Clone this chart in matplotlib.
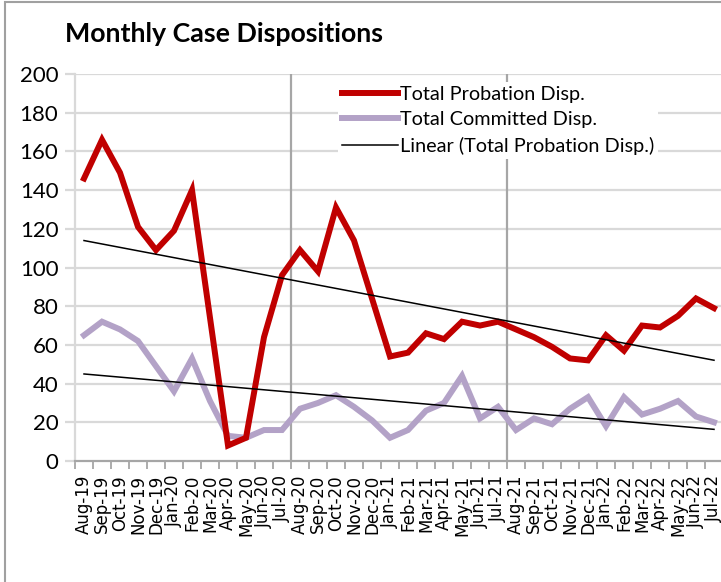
import numpy as np
import matplotlib
matplotlib.use('Agg')
from matplotlib import pyplot as plt
from matplotlib.patches import Rectangle

meses = ['Aug-19', 'Sep-19', 'Oct-19', 'Nov-19', 'Dec-19', 'Jan-20', 'Feb-20', 'Mar-20',
         'Apr-20', 'May-20', 'Jun-20', 'Jul-20', 'Aug-20', 'Sep-20', 'Oct-20', 'Nov-20',
         'Dec-20', 'Jan-21', 'Feb-21', 'Mar-21', 'Apr-21', 'May-21', 'Jun-21', 'Jul-21',
         'Aug-21', 'Sep-21', 'Oct-21', 'Nov-21', 'Dec-21', 'Jan-22', 'Feb-22', 'Mar-22',
         'Apr-22', 'May-22', 'Jun-22', 'Jul-22']

probation = [146, 166, 149, 121, 109, 119, 140, 74, 8, 12, 64, 96,
             109, 98, 131, 114, 84, 54, 56, 66, 63, 72, 70, 72,
             68, 64, 59, 53, 52, 65, 57, 70, 69, 75, 84, 79]

committed = [65, 72, 68, 62, 49, 36, 53, 31, 13, 12, 16, 16,
             27, 30, 34, 28, 21, 12, 16, 26, 30, 44, 22, 28,
             16, 22, 19, 27, 33, 18, 33, 24, 27, 31, 23, 20]

y_ticks = list(range(0, 201, 20))

W, H = 721, 582
fig = plt.figure(figsize=(W / 100, H / 100), dpi=100)
ax = fig.add_axes([75 / W, 1 - 461 / H, 648 / W, 387 / H])

x = np.arange(len(meses))

gris = '#d9d9d9'
for yv in y_ticks[1:]:
    ax.axhline(yv, color=gris, lw=1.6, zorder=0)
for xv in (11.5, 23.5):
    ax.axvline(xv, color='#a6a6a6', lw=1.6, zorder=0.5)

ax.plot(x, probation, color='#c00000', lw=4.3, solid_joinstyle='miter',
        label='Total Probation Disp.', zorder=3)
ax.plot(x, committed, color='#b3a2c7', lw=4.3, solid_joinstyle='miter',
        label='Total Committed Disp.', zorder=2)

# tendencias lineales
p1 = np.polyfit(x, probation, 1)
p2 = np.polyfit(x, committed, 1)
ax.plot(x, np.polyval(p1, x), color='black', lw=1.1,
        label='Linear (Total Probation Disp.)', zorder=4)
ax.plot(x, np.polyval(p2, x), color='black', lw=1.1, zorder=4)

ax.set_xlim(-0.5, len(meses) - 0.5)
ax.set_ylim(0, 200)
ax.set_yticks(y_ticks)
ax.set_yticklabels([str(v) for v in y_ticks])
for lbl in ax.get_yticklabels():
    lbl.set_fontfamily('Lato')
    lbl.set_fontsize(16)
ax.tick_params(axis='y', length=7, width=1.6, color=gris, pad=5)

ax.set_xticks(x)
ax.set_xticklabels(meses, rotation=90)
for lbl in ax.get_xticklabels():
    lbl.set_fontfamily('DejaVu Sans')
    lbl.set_fontsize(12)
ax.set_xticks(np.arange(-0.5, len(meses), 1), minor=True)
ax.tick_params(axis='x', which='major', length=0, pad=10)
ax.tick_params(axis='x', which='minor', length=6, width=1.3, color='#a6a6a6')

for s in ('top', 'right'):
    ax.spines[s].set_visible(False)
ax.spines['left'].set_color(gris)
ax.spines['left'].set_linewidth(1.6)
ax.spines['bottom'].set_color('#a6a6a6')
ax.spines['bottom'].set_linewidth(1.6)

leg = ax.legend(loc='upper left', bbox_to_anchor=(338 / W, 1 - 82 / H),
                bbox_transform=fig.transFigure, frameon=True, fancybox=False,
                edgecolor='none', facecolor='white', framealpha=1,
                prop={'family': 'Lato', 'size': 14.3}, handlelength=2.8,
                handletextpad=0.1, labelspacing=0.42, borderpad=0.2,
                borderaxespad=0)
leg.set_zorder(5)

fig.text(65 / W, 1 - 34 / H, 'Monthly Case Dispositions', fontfamily='Lato',
         fontweight='bold', fontsize=19.3, va='center', ha='left')

fig.patches.append(Rectangle((5 / W, -0.1), 1.2, 1.1 - 1.5 / H, transform=fig.transFigure,
                             fill=False, edgecolor='#a0a0a0', lw=1.5))

fig.savefig('out.png', dpi=100)
